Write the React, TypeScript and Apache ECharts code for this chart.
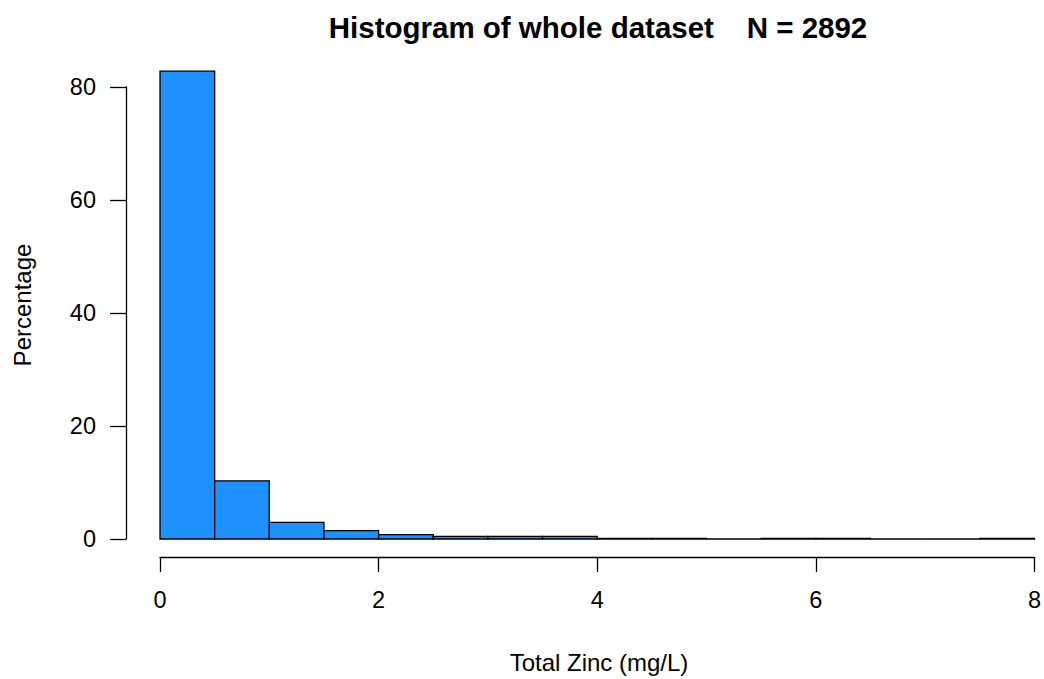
import React, { useEffect, useRef } from "react";
import * as echarts from "echarts";

const binStarts = [0, 0.5, 1, 1.5, 2, 2.5, 3, 3.5, 4, 4.5, 5, 5.5, 6, 6.5, 7, 7.5];
const binWidth = 0.5;
const percentages = [82.8, 10.3, 2.95, 1.47, 0.76, 0.45, 0.45, 0.45, 0.1, 0.1, 0, 0.1, 0.1, 0, 0, 0.1];
const xTicks = [0, 2, 4, 6, 8];
const yTicks = [0, 20, 40, 60, 80];
const titleText = "Histogram of whole dataset    N = 2892";
const xLabel = "Total Zinc (mg/L)";
const yLabel = "Percentage";

const FONT = "'Liberation Sans', Arial, sans-serif";

export default function App() {
  const ref = useRef<HTMLDivElement>(null);
  useEffect(() => {
    if (!ref.current) return;
    const chart = echarts.init(ref.current, null, { renderer: "svg" });
    const data = binStarts.map((s, i) => [s, s + binWidth, percentages[i]]);
    chart.setOption({
      animation: false,
      backgroundColor: "#ffffff",
      textStyle: { fontFamily: FONT },
      grid: { left: 160, right: 6, top: 87, bottom: 140, containLabel: false },
      xAxis: {
        type: "value",
        min: xTicks[0],
        max: xTicks[xTicks.length - 1],
        interval: 2,
        offset: 18,
        axisLine: { show: true, onZero: false, lineStyle: { color: "#000", width: 1.3 } },
        axisTick: { show: true, length: 15, lineStyle: { color: "#000", width: 1.3 } },
        axisLabel: { fontSize: 23.5, color: "#000", margin: 31, fontFamily: FONT },
        splitLine: { show: false },
      },
      yAxis: {
        type: "value",
        min: yTicks[0],
        max: yTicks[yTicks.length - 1],
        interval: 20,
        offset: 34,
        axisLine: { show: true, onZero: false, lineStyle: { color: "#000", width: 1.3 } },
        axisTick: { show: true, length: 16, lineStyle: { color: "#000", width: 1.3 } },
        axisLabel: { fontSize: 23.5, color: "#000", margin: 30, fontFamily: FONT },
        splitLine: { show: false },
      },
      graphic: [
        {
          type: "text",
          x: 598,
          y: 27,
          style: { text: titleText, font: `bold 29.5px ${FONT}`, fill: "#000", align: "center", verticalAlign: "middle" },
        },
        {
          type: "text",
          x: 599,
          y: 662,
          style: { text: xLabel, font: `24px ${FONT}`, fill: "#000", align: "center", verticalAlign: "middle" },
        },
        {
          type: "text",
          x: 22,
          y: 305,
          rotation: Math.PI / 2,
          style: { text: yLabel, font: `24px ${FONT}`, fill: "#000", align: "center", verticalAlign: "middle" },
        },
      ],
      series: [
        {
          type: "custom",
          clip: false,
          data,
          encode: { x: [0, 1], y: 2 },
          renderItem: (params: any, api: any) => {
            const p0 = api.coord([api.value(0), api.value(2)]);
            const p1 = api.coord([api.value(1), 0]);
            return {
              type: "rect",
              shape: { x: p0[0], y: p0[1], width: p1[0] - p0[0], height: p1[1] - p0[1] },
              style: { fill: "#1E90FF", stroke: "#000", lineWidth: 1.3 },
            };
          },
        },
      ],
    });
    return () => chart.dispose();
  }, []);
  return (
    <div
      ref={ref}
      style={{ position: "absolute", left: 0, top: 0, width: 1044, height: 679 }}
    />
  );
}
